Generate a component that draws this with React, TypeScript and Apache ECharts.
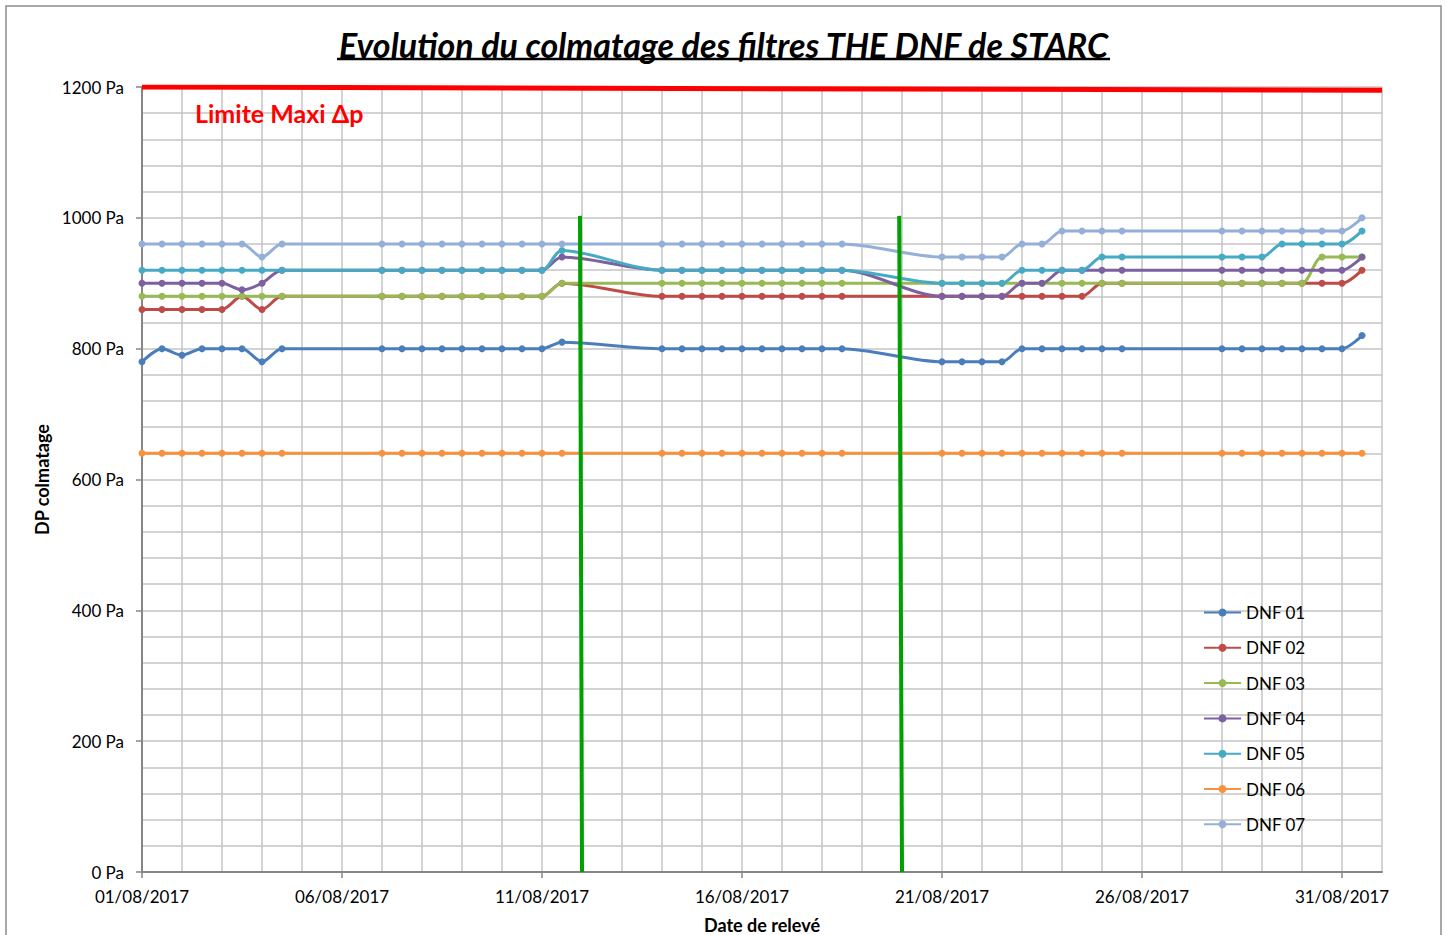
import React, { useEffect, useRef } from 'react';
import * as echarts from 'echarts';

// Day offsets from 01/08/2017 (two readings per working day)
const readingDays = [
  0, 0.5, 1, 1.5, 2, 2.5, 3, 3.5,
  6, 6.5, 7, 7.5, 8, 8.5, 9, 9.5, 10, 10.5,
  13, 13.5, 14, 14.5, 15, 15.5, 16, 16.5, 17, 17.5,
  20, 20.5, 21, 21.5, 22, 22.5, 23, 23.5, 24, 24.5,
  27, 27.5, 28, 28.5, 29, 29.5, 30, 30.5,
];

const seriesNames = ['DNF 01', 'DNF 02', 'DNF 03', 'DNF 04', 'DNF 05', 'DNF 06', 'DNF 07'];
const seriesColors = ['#4A7EBB', '#BE4B48', '#98B954', '#7D60A0', '#46AAC5', '#F69240', '#94AFD8'];

const dnf01 = [
  780, 800, 790, 800, 800, 800, 780, 800,
  800, 800, 800, 800, 800, 800, 800, 800, 800, 810,
  800, 800, 800, 800, 800, 800, 800, 800, 800, 800,
  780, 780, 780, 780, 800, 800, 800, 800, 800, 800,
  800, 800, 800, 800, 800, 800, 800, 820,
];
const dnf02 = [
  860, 860, 860, 860, 860, 880, 860, 880,
  880, 880, 880, 880, 880, 880, 880, 880, 880, 900,
  880, 880, 880, 880, 880, 880, 880, 880, 880, 880,
  880, 880, 880, 880, 880, 880, 880, 880, 900, 900,
  900, 900, 900, 900, 900, 900, 900, 920,
];
const dnf03 = [
  880, 880, 880, 880, 880, 880, 880, 880,
  880, 880, 880, 880, 880, 880, 880, 880, 880, 900,
  900, 900, 900, 900, 900, 900, 900, 900, 900, 900,
  900, 900, 900, 900, 900, 900, 900, 900, 900, 900,
  900, 900, 900, 900, 900, 940, 940, 940,
];
const dnf04 = [
  900, 900, 900, 900, 900, 890, 900, 920,
  920, 920, 920, 920, 920, 920, 920, 920, 920, 940,
  920, 920, 920, 920, 920, 920, 920, 920, 920, 920,
  880, 880, 880, 880, 900, 900, 920, 920, 920, 920,
  920, 920, 920, 920, 920, 920, 920, 940,
];
const dnf05 = [
  920, 920, 920, 920, 920, 920, 920, 920,
  920, 920, 920, 920, 920, 920, 920, 920, 920, 950,
  920, 920, 920, 920, 920, 920, 920, 920, 920, 920,
  900, 900, 900, 900, 920, 920, 920, 920, 940, 940,
  940, 940, 940, 960, 960, 960, 960, 980,
];
const dnf06 = [
  640, 640, 640, 640, 640, 640, 640, 640,
  640, 640, 640, 640, 640, 640, 640, 640, 640, 640,
  640, 640, 640, 640, 640, 640, 640, 640, 640, 640,
  640, 640, 640, 640, 640, 640, 640, 640, 640, 640,
  640, 640, 640, 640, 640, 640, 640, 640,
];
const dnf07 = [
  960, 960, 960, 960, 960, 960, 940, 960,
  960, 960, 960, 960, 960, 960, 960, 960, 960, 960,
  960, 960, 960, 960, 960, 960, 960, 960, 960, 960,
  940, 940, 940, 940, 960, 960, 980, 980, 980, 980,
  980, 980, 980, 980, 980, 980, 980, 1000,
];
const seriesValues = [dnf01, dnf02, dnf03, dnf04, dnf05, dnf06, dnf07];

// Limit line and intervention markers (day offset, Pa)
const limitLine = [[0, 1200], [31, 1195]];
const interventionA = [[10.95, 1003], [11.0, 0]];
const interventionB = [[18.93, 1003], [19.0, 0]];

const xLabelDays = [0, 5, 10, 15, 20, 25, 30];
const yLabelValues = [0, 200, 400, 600, 800, 1000, 1200];

const FONT = 'Lato, "Open Sans", sans-serif';
const AXIS_GREY = '#868686';
const GRID_GREY = '#C4C4C4';

function dayLabel(v: number): string {
  const d = Math.round(v) + 1;
  return (d < 10 ? '0' + d : '' + d) + '/08/2017';
}

export default function App() {
  const ref = useRef<HTMLDivElement>(null);
  useEffect(() => {
    document.body.style.margin = '0';
    const chart = echarts.init(ref.current!, null, { renderer: 'svg' });

    const dataSeries = seriesNames.map((name, i) => ({
      name,
      type: 'line',
      data: readingDays.map((d, k) => [d, seriesValues[i][k]]),
      smooth: 0.3,
      symbol: 'circle',
      symbolSize: 7,
      showSymbol: true,
      lineStyle: { width: 3, color: seriesColors[i] },
      itemStyle: { color: seriesColors[i] },
      z: 3,
    }));

    const helper = (data: number[][], color: string, width: number) => ({
      type: 'line',
      data,
      symbol: 'none',
      silent: true,
      lineStyle: { width, color },
      z: 4,
    });

    chart.setOption({
      animation: false,
      backgroundColor: '#ffffff',
      title: {
        text: 'Evolution du colmatage des filtres THE DNF de STARC',
        left: 'center',
        top: 22,
        textStyle: {
          fontFamily: FONT,
          fontSize: 34,
          fontWeight: 'bold',
          fontStyle: 'italic',
          color: '#000',
        },
      },
      grid: { left: 142, right: 65, top: 87, bottom: 63, containLabel: false, outerBoundsMode: 'none' },
      legend: {
        orient: 'vertical',
        left: 1203,
        top: 604,
        padding: 0,
        itemWidth: 37,
        itemHeight: 10,
        itemGap: 18.3,
        data: seriesNames,
        textStyle: { fontFamily: FONT, fontSize: 17, color: '#000', lineHeight: 16 },
      },
      xAxis: [
        {
          type: 'value',
          min: 0,
          max: 31,
          interval: 1,
          axisLine: { show: true, lineStyle: { color: AXIS_GREY, width: 2 } },
          axisTick: { show: false },
          axisLabel: { show: false },
          splitLine: { show: true, lineStyle: { color: GRID_GREY, width: 1.5 } },
        },
        {
          type: 'value',
          position: 'bottom',
          min: 0,
          max: 31,
          interval: 5,
          name: 'Date de relevé',
          nameLocation: 'middle',
          nameGap: 44,
          nameTextStyle: { fontFamily: FONT, fontSize: 18, fontWeight: 'bold', color: '#000' },
          axisLine: { show: false },
          axisTick: { show: true, customValues: xLabelDays, length: 6, lineStyle: { color: AXIS_GREY, width: 1.5 } },
          axisLabel: {
            customValues: xLabelDays,
            formatter: (v: number) => dayLabel(v),
            fontFamily: FONT,
            fontSize: 17,
            color: '#000',
            margin: 16,
          },
          splitLine: { show: false },
        },
      ],
      yAxis: [
        {
          type: 'value',
          min: 0,
          max: 1200,
          interval: 40,
          axisLine: { show: true, lineStyle: { color: AXIS_GREY, width: 2 } },
          axisTick: { show: false },
          axisLabel: { show: false },
          splitLine: { show: true, lineStyle: { color: GRID_GREY, width: 1.5 } },
        },
        {
          type: 'value',
          position: 'left',
          min: 0,
          max: 1200,
          interval: 200,
          name: 'DP colmatage',
          nameLocation: 'middle',
          nameGap: 87,
          nameTextStyle: { fontFamily: FONT, fontSize: 18, fontWeight: 'bold', color: '#000' },
          axisLine: { show: false },
          axisTick: { show: true, customValues: yLabelValues, length: 6, lineStyle: { color: AXIS_GREY, width: 1.5 } },
          axisLabel: {
            customValues: yLabelValues,
            formatter: (v: number) => v + ' Pa',
            fontFamily: FONT,
            fontSize: 17,
            color: '#000',
            margin: 18,
          },
          splitLine: { show: false },
        },
      ],
      graphic: [
        {
          type: 'rect',
          shape: { x: 6, y: 6, width: 1435, height: 960 },
          style: { fill: 'none', stroke: '#8C8C8C', lineWidth: 1.5 },
          silent: true,
          z: -10,
        },
        {
          type: 'line',
          shape: { x1: 337, y1: 59, x2: 1110, y2: 59 },
          style: { stroke: '#000', lineWidth: 2.5 },
          silent: true,
        },
        {
          type: 'text',
          x: 195,
          y: 113,
          style: {
            text: 'Limite Maxi Δp',
            fill: '#FF0000',
            fontFamily: FONT,
            fontSize: 25,
            fontWeight: 'bold',
            verticalAlign: 'middle',
          },
          silent: true,
          z: 10,
        },
      ],
      series: [
        ...dataSeries,
        helper(limitLine, '#FF0000', 5),
        helper(interventionA, '#00A000', 4),
        helper(interventionB, '#00A000', 4),
      ],
    });

    return () => chart.dispose();
  }, []);
  return <div ref={ref} style={{ width: 1447, height: 935 }} />;
}
